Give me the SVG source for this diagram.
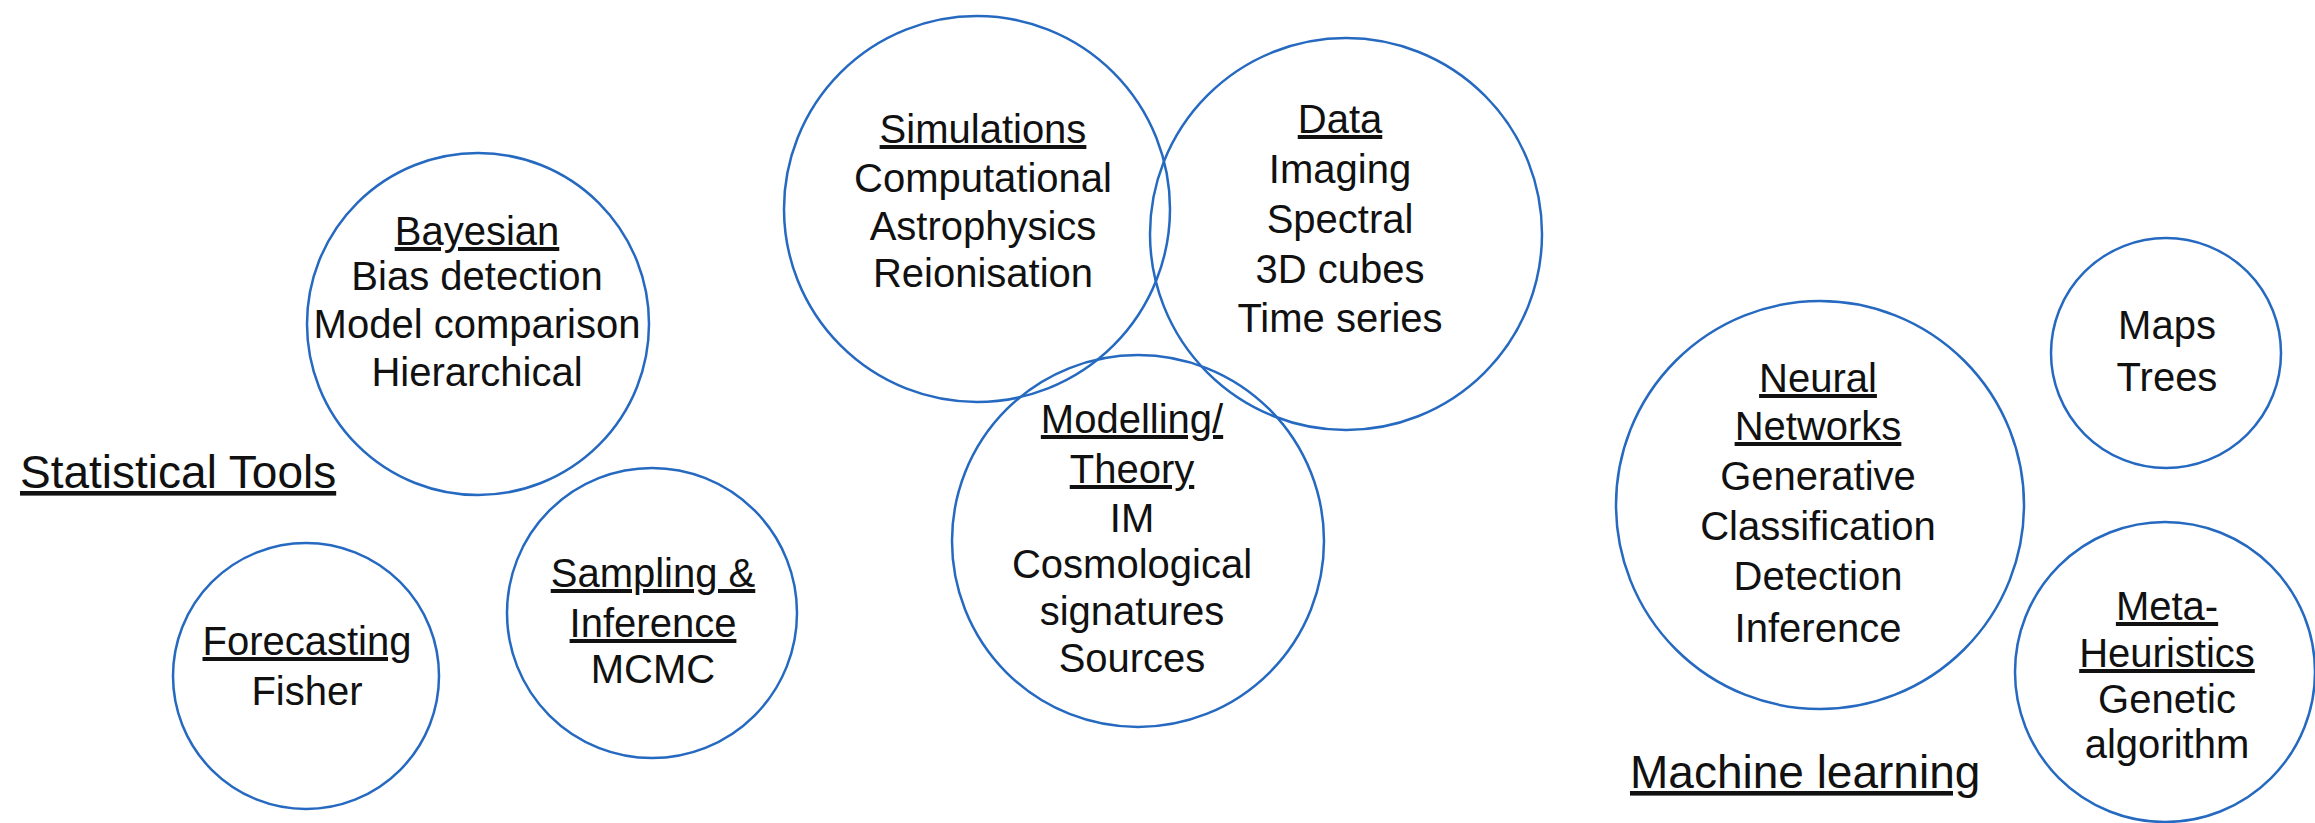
<svg xmlns="http://www.w3.org/2000/svg" width="2315" height="823" viewBox="0 0 2315 823">
<style>
.c{fill:none;stroke:#2569c0;stroke-width:2.5}
text{font-family:"Liberation Sans",Arial,Helvetica,sans-serif;fill:#111;font-size:40px;text-anchor:middle}
.u{text-decoration:underline}
.h{font-size:46px;text-anchor:start;text-decoration:underline}
</style>
<rect width="2315" height="823" fill="#fff"/>
<g id="labels">
<text class="h" x="20" y="488">Statistical Tools</text>
<text class="h" x="1630" y="788">Machine learning</text>
</g>
<g id="bayesian">
<circle class="c" cx="478" cy="324" r="171"/>
<text class="u" x="477" y="245">Bayesian</text>
<text x="477" y="290">Bias detection</text>
<text x="477" y="338">Model comparison</text>
<text x="477" y="386">Hierarchical</text>
</g>
<g id="sampling">
<circle class="c" cx="652" cy="613" r="145"/>
<text class="u" x="653" y="587">Sampling &amp;</text>
<text class="u" x="653" y="637">Inference</text>
<text x="653" y="683">MCMC</text>
</g>
<g id="forecasting">
<circle class="c" cx="306" cy="676" r="133"/>
<text class="u" x="307" y="655">Forecasting</text>
<text x="307" y="705">Fisher</text>
</g>
<g id="simulations">
<circle class="c" cx="977" cy="209" r="193"/>
<text class="u" x="983" y="143">Simulations</text>
<text x="983" y="192">Computational</text>
<text x="983" y="240">Astrophysics</text>
<text x="983" y="287">Reionisation</text>
</g>
<g id="data">
<circle class="c" cx="1346" cy="234" r="196"/>
<text class="u" x="1340" y="133">Data</text>
<text x="1340" y="183">Imaging</text>
<text x="1340" y="233">Spectral</text>
<text x="1340" y="283">3D cubes</text>
<text x="1340" y="332">Time series</text>
</g>
<g id="modelling">
<circle class="c" cx="1138" cy="541" r="186"/>
<text class="u" x="1132" y="433">Modelling/</text>
<text class="u" x="1132" y="483">Theory</text>
<text x="1132" y="532">IM</text>
<text x="1132" y="578">Cosmological</text>
<text x="1132" y="625">signatures</text>
<text x="1132" y="672">Sources</text>
</g>
<g id="neural">
<circle class="c" cx="1820" cy="505" r="204"/>
<text class="u" x="1818" y="392">Neural</text>
<text class="u" x="1818" y="440">Networks</text>
<text x="1818" y="490">Generative</text>
<text x="1818" y="540">Classification</text>
<text x="1818" y="590">Detection</text>
<text x="1818" y="642">Inference</text>
</g>
<g id="maps">
<circle class="c" cx="2166" cy="353" r="115"/>
<text x="2167" y="339">Maps</text>
<text x="2167" y="391">Trees</text>
</g>
<g id="meta">
<circle class="c" cx="2165" cy="672" r="150"/>
<text class="u" x="2167" y="620">Meta-</text>
<text class="u" x="2167" y="667">Heuristics</text>
<text x="2167" y="713">Genetic</text>
<text x="2167" y="758">algorithm</text>
</g>
<g id="connectors"/>
</svg>
